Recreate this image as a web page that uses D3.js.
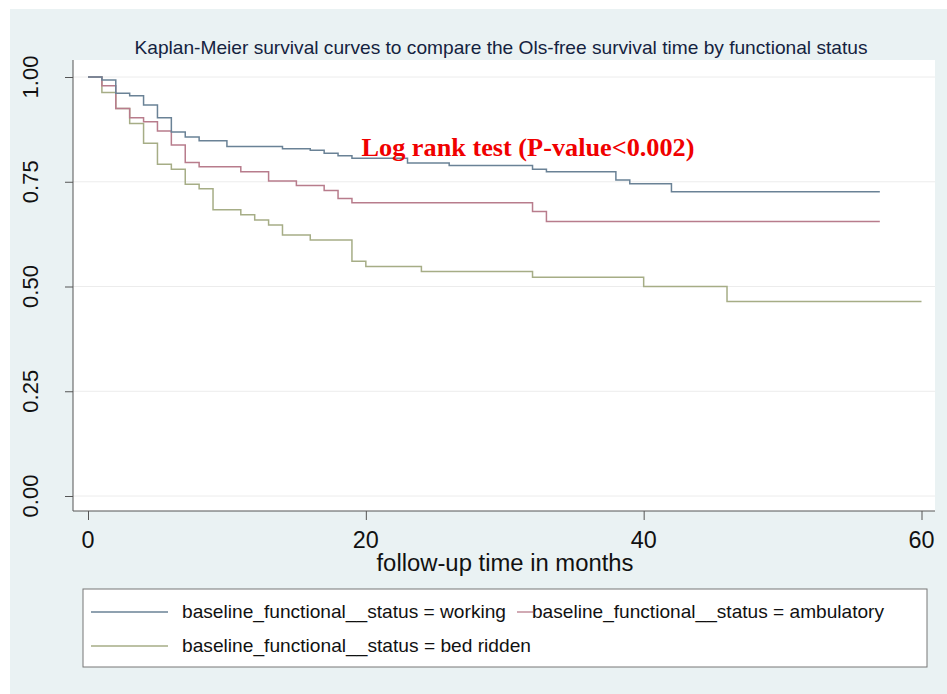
<!DOCTYPE html>
<html lang="en">
<head>
    <meta charset="UTF-8">
    <title>Kaplan-Meier survival curves</title>
    <script src="https://d3js.org/d3.v7.min.js"></script>
    <style>
        body { margin: 0; background: #ffffff; }
        svg { display: block; }
    </style>
</head>
<body>
    <svg width="947" height="694"></svg>

    <script>
        // Kaplan-Meier estimates (time in months, survival)
        const workingTime = [0, 1, 2, 3, 4, 5, 6, 7, 8, 10, 14, 16, 17, 18, 19, 23, 26, 32, 33, 38, 39, 42, 57];
        const workingSurv = [1, 0.993, 0.961, 0.955, 0.933, 0.903, 0.869, 0.857, 0.848, 0.834, 0.829, 0.825, 0.818, 0.812, 0.806, 0.795, 0.789, 0.780, 0.774, 0.754, 0.745, 0.726, 0.726];

        const ambulatoryTime = [0, 1, 2, 3, 4, 5, 6, 7, 8, 11, 13, 15, 17, 18, 19, 32, 33, 57];
        const ambulatorySurv = [1, 0.979, 0.925, 0.903, 0.893, 0.871, 0.838, 0.796, 0.786, 0.774, 0.752, 0.741, 0.729, 0.710, 0.700, 0.679, 0.655, 0.655];

        const bedTime = [0, 1, 2, 3, 4, 5, 6, 7, 8, 9, 11, 12, 13, 14, 16, 19, 20, 24, 32, 40, 46, 60];
        const bedSurv = [1, 0.963, 0.925, 0.889, 0.842, 0.792, 0.780, 0.744, 0.733, 0.683, 0.671, 0.659, 0.647, 0.623, 0.611, 0.560, 0.548, 0.536, 0.522, 0.500, 0.464, 0.464];

        const seriesNames = ["baseline_functional__status = working",
                             "baseline_functional__status = ambulatory",
                             "baseline_functional__status = bed ridden"];
        const seriesColors = ["#6a8296", "#b87c8c", "#a6ad86"];

        const xTicks = [0, 20, 40, 60];
        const yTicks = [0, 0.25, 0.5, 0.75, 1];

        const svg = d3.select("svg");

        // outer background (white strip on top and left like the scan)
        svg.append("rect")
            .attr("x", 10).attr("y", 9)
            .attr("width", 937).attr("height", 685)
            .attr("fill", "#eaf2f3");

        // plot region
        const plotLeft = 73, plotRight = 935, plotTop = 60, plotBottom = 511;
        svg.append("rect")
            .attr("x", plotLeft).attr("y", plotTop)
            .attr("width", plotRight - plotLeft).attr("height", plotBottom - plotTop)
            .attr("fill", "#ffffff");

        const xScale = d3.scaleLinear().domain([0, 60]).range([88, 921.5]);
        const yScale = d3.scaleLinear().domain([0, 1]).range([496, 77]);

        // gridlines
        svg.append("g")
            .selectAll("line")
            .data(yTicks)
            .join("line")
            .attr("x1", plotLeft).attr("x2", plotRight)
            .attr("y1", d => yScale(d)).attr("y2", d => yScale(d))
            .attr("stroke", "#ececec")
            .attr("stroke-width", 1);

        // title
        svg.append("text")
            .attr("x", 501).attr("y", 54)
            .attr("text-anchor", "middle")
            .attr("textLength", 733)
            .attr("lengthAdjust", "spacingAndGlyphs")
            .style("font-family", "Liberation Sans, Arial, sans-serif")
            .style("font-size", "19px")
            .style("fill", "#14233f")
            .text("Kaplan-Meier survival curves to compare the Ols-free survival time by functional status");

        // y axis
        const yAxis = svg.append("g")
            .attr("transform", `translate(${plotLeft},0)`)
            .call(d3.axisLeft(yScale).tickValues(yTicks).tickSize(8).tickFormat(""));
        yAxis.select(".domain").attr("d", `M0,${plotTop}V${plotBottom}`).attr("stroke", "#555");
        yAxis.selectAll(".tick line").attr("stroke", "#555");

        svg.append("g")
            .selectAll("text")
            .data(yTicks)
            .join("text")
            .attr("transform", d => `translate(38,${yScale(d)}) rotate(-90)`)
            .attr("text-anchor", "middle")
            .style("font-family", "Liberation Sans, Arial, sans-serif")
            .style("font-size", "22px")
            .style("fill", "#111")
            .text(d => d3.format(".2f")(d));

        // x axis
        const xAxis = svg.append("g")
            .attr("transform", `translate(0,${plotBottom})`)
            .call(d3.axisBottom(xScale).tickValues(xTicks).tickSize(9).tickFormat(""));
        xAxis.select(".domain").attr("d", `M${plotLeft},0H${plotRight}`).attr("stroke", "#555");
        xAxis.selectAll(".tick line").attr("stroke", "#555");

        svg.append("g")
            .selectAll("text")
            .data(xTicks)
            .join("text")
            .attr("x", d => xScale(d))
            .attr("y", 548)
            .attr("text-anchor", "middle")
            .attr("textLength", d => d === 0 ? 13 : 26)
            .attr("lengthAdjust", "spacingAndGlyphs")
            .style("font-family", "Liberation Sans, Arial, sans-serif")
            .style("font-size", "24px")
            .style("fill", "#111")
            .text(d => d);

        svg.append("text")
            .attr("x", 505).attr("y", 571)
            .attr("text-anchor", "middle")
            .attr("textLength", 257)
            .attr("lengthAdjust", "spacingAndGlyphs")
            .style("font-family", "Liberation Sans, Arial, sans-serif")
            .style("font-size", "23px")
            .style("fill", "#111")
            .text("follow-up time in months");

        // survival curves
        const series = [
            { time: workingTime, surv: workingSurv },
            { time: ambulatoryTime, surv: ambulatorySurv },
            { time: bedTime, surv: bedSurv }
        ];

        const stepLine = d3.line()
            .x(d => xScale(d[0]))
            .y(d => yScale(d[1]))
            .curve(d3.curveStepAfter);

        // draw bed ridden first so working sits on top
        [2, 1, 0].forEach(i => {
            const pts = series[i].time.map((t, j) => [t, series[i].surv[j]]);
            svg.append("path")
                .attr("d", stepLine(pts))
                .attr("fill", "none")
                .attr("stroke", seriesColors[i])
                .attr("stroke-width", 1.5);
        });

        // annotation
        svg.append("text")
            .attr("x", 528).attr("y", 156)
            .attr("text-anchor", "middle")
            .attr("textLength", 333)
            .attr("lengthAdjust", "spacingAndGlyphs")
            .style("font-family", "Liberation Serif, Times New Roman, serif")
            .style("font-weight", "bold")
            .style("font-size", "26px")
            .style("fill", "#f00000")
            .text("Log rank test (P-value<0.002)");

        // legend
        svg.append("rect")
            .attr("x", 83).attr("y", 589)
            .attr("width", 844).attr("height", 78)
            .attr("fill", "#ffffff")
            .attr("stroke", "#777")
            .attr("stroke-width", 1);

        const legendItems = [
            { line: [91, 168], textX: 182, y: 612, len: 324 },
            { line: [517, 533], textX: 532, y: 612, len: 352 },
            { line: [91, 168], textX: 182, y: 646, len: 349 }
        ];

        legendItems.forEach((item, i) => {
            svg.append("line")
                .attr("x1", item.line[0]).attr("x2", item.line[1])
                .attr("y1", item.y).attr("y2", item.y)
                .attr("stroke", seriesColors[i])
                .attr("stroke-width", 1.3);
            svg.append("text")
                .attr("x", item.textX).attr("y", item.y + 6)
                .attr("textLength", item.len)
                .attr("lengthAdjust", "spacingAndGlyphs")
                .style("font-family", "Liberation Sans, Arial, sans-serif")
                .style("font-size", "19px")
                .style("fill", "#111")
                .text(seriesNames[i]);
        });
    </script>
</body>
</html>
